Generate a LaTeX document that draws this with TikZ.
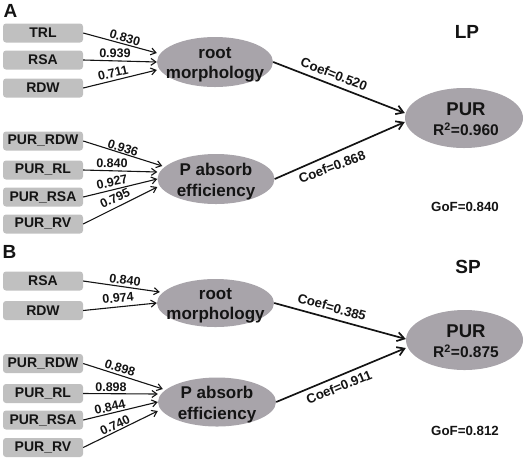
\documentclass[tikz,border=0pt]{standalone}
\usepackage{fontspec}
\setmainfont{Liberation Sans}
\usetikzlibrary{shapes.geometric,arrows.meta}
\definecolor{boxgray}{RGB}{192,192,192}
\definecolor{ellgray}{RGB}{168,164,170}
\definecolor{ink}{RGB}{20,20,20}
\begin{document}
\begin{tikzpicture}[x=1pt,y=-1pt,
  every node/.style={text=ink},
  var/.style={fill=boxgray, rounded corners=3pt, minimum width=80pt, minimum height=19pt, inner sep=0pt, font=\fontsize{14}{15}\selectfont\bfseries},
  lat/.style={ellipse, fill=ellgray, minimum width=116pt, minimum height=50pt, inner sep=0pt},
  lattext/.style={align=center, inner sep=0pt, font=\fontsize{17}{20.5}\selectfont\bfseries},
  purtext/.style={align=center, inner sep=0pt, font=\fontsize{18.5}{20}\selectfont\bfseries},
  loadlab/.style={inner sep=0pt, font=\fontsize{12.5}{14}\selectfont\bfseries},
  coeflab/.style={inner sep=0pt, font=\fontsize{13.2}{15}\selectfont\bfseries},
  gof/.style={inner sep=0pt, font=\fontsize{13.3}{15}\selectfont\bfseries},
  paneltitle/.style={inner sep=0pt, font=\fontsize{19}{21}\selectfont\bfseries},
  loadarrow/.style={draw=ink, line width=1.1pt, -{Straight Barb[length=5pt,width=7pt]}},
  coefarrow/.style={draw=ink, line width=1.7pt, -{Straight Barb[length=7pt,width=9pt]}}
]
\useasboundingbox (0,0) rectangle (526,459);

% ---------------- Panel A ----------------
\node[paneltitle] (pA) at (10.5,11) {A};
\node[paneltitle] (lp) at (467,32) {LP};

\node[var] (trl) at (43,33) {TRL};
\node[var] (rsaA) at (43,60) {RSA};
\node[var] (rdwA) at (43,88) {RDW};
\node[var] (prdwA) at (43,141) {PUR\_RDW};
\node[var] (prlA) at (43,170) {PUR\_RL};
\node[var] (prsaA) at (43,197) {PUR\_RSA};
\node[var] (prvA) at (43,224) {PUR\_RV};

\node[lat] (rmA) at (215,62) {};
\node[lattext] (rmAt) at (215,64.5) {root\\morphology};
\node[lat, minimum width=117pt] (paA) at (216,179) {};
\node[lattext] (paAt) at (216,181.5) {P absorb\\efficiency};
\node[lat, minimum width=118pt, minimum height=60pt] (purA) at (464,118) {};
\node[purtext] (purAt) at (466,119) {PUR\\{\fontsize{15.5}{20}\selectfont R\textsuperscript{2}=0.960}};

\draw[loadarrow] (trl.east) -- ([yshift=9pt]rmA.west);
\draw[loadarrow] (rsaA.east) -- ([yshift=0pt]rmA.west);
\draw[loadarrow] (rdwA.east) -- ([yshift=-8pt]rmA.west);
\draw[loadarrow] (prdwA.east) -- ([xshift=5pt,yshift=13pt]paA.west);
\draw[loadarrow] (prlA.east) -- ([yshift=7pt]paA.west);
\draw[loadarrow] (prsaA.east) -- ([yshift=0pt]paA.west);
\draw[loadarrow] (prvA.east) -- ([yshift=-8pt]paA.west);

\node[loadlab, rotate=-16] (la1) at (125,38) {0.830};
\node[loadlab, rotate=-1] (la2) at (115,53) {0.939};
\node[loadlab, rotate=13] (la3) at (113,73) {0.711};
\node[loadlab, rotate=-18] (la4) at (123,148) {0.936};
\node[loadlab, rotate=-1] (la5) at (112,163) {0.840};
\node[loadlab, rotate=12] (la6) at (112,182) {0.927};
\node[loadlab, rotate=25] (la7) at (115,198) {0.795};

\draw[coefarrow] (rmA.east) -- ([yshift=5pt]purA.west);
\draw[coefarrow] (paA.east) -- ([yshift=-4pt]purA.west);
\node[coeflab, rotate=-21.5] (ca1) at (334,74) {Coef=0.520};
\node[coeflab, rotate=20.5] (ca2) at (332,167) {Coef=0.868};
\node[gof] (gofA) at (465,207) {GoF=0.840};

% ---------------- Panel B ----------------
\node[paneltitle] (pB) at (9.5,252) {B};
\node[paneltitle] (sp) at (468,267) {SP};

\node[var] (rsaB) at (43,281) {RSA};
\node[var] (rdwB) at (43,310.5) {RDW};
\node[var] (prdwB) at (43,363.5) {PUR\_RDW};
\node[var] (prlB) at (43,393.5) {PUR\_RL};
\node[var] (prsaB) at (43,420) {PUR\_RSA};
\node[var] (prvB) at (43,447.5) {PUR\_RV};

\node[lat, minimum width=117pt, minimum height=48pt] (rmB) at (215.5,303) {};
\node[lattext] (rmBt) at (215.5,305.5) {root\\morphology};
\node[lat, minimum width=118pt, minimum height=49pt] (paB) at (217,402) {};
\node[lattext] (paBt) at (217,404.5) {P absorb\\efficiency};
\node[lat, minimum width=117pt, minimum height=60pt] (purB) at (464.5,340) {};
\node[purtext] (purBt) at (466,341) {PUR\\{\fontsize{15.5}{20}\selectfont R\textsuperscript{2}=0.875}};

\draw[loadarrow] (rsaB.east) -- ([xshift=3pt,yshift=11pt]rmB.west);
\draw[loadarrow] (rdwB.east) -- ([yshift=0pt]rmB.west);
\draw[loadarrow] (prdwB.east) -- ([xshift=5pt,yshift=13pt]paB.west);
\draw[loadarrow] (prlB.east) -- ([yshift=8pt]paB.west);
\draw[loadarrow] (prsaB.east) -- ([yshift=0pt]paB.west);
\draw[loadarrow] (prvB.east) -- ([yshift=-9pt]paB.west);

\node[loadlab, rotate=-8] (lb1) at (125,280) {0.840};
\node[loadlab, rotate=6] (lb2) at (118,298) {0.974};
\node[loadlab, rotate=-18] (lb3) at (120,368) {0.898};
\node[loadlab, rotate=0] (lb4) at (111,387) {0.898};
\node[loadlab, rotate=13] (lb5) at (110,407) {0.844};
\node[loadlab, rotate=25] (lb6) at (115,425) {0.740};

\draw[coefarrow] (rmB.east) -- ([yshift=1pt]purB.west);
\draw[coefarrow] (paB.east) -- ([yshift=-8pt]purB.west);
\node[coeflab, rotate=-15.6] (cb1) at (332,307) {Coef=0.385};
\node[coeflab, rotate=22.2] (cb2) at (339,387) {Coef=0.911};
\node[gof] (gofB) at (465,431) {GoF=0.812};
\end{tikzpicture}
\end{document}
